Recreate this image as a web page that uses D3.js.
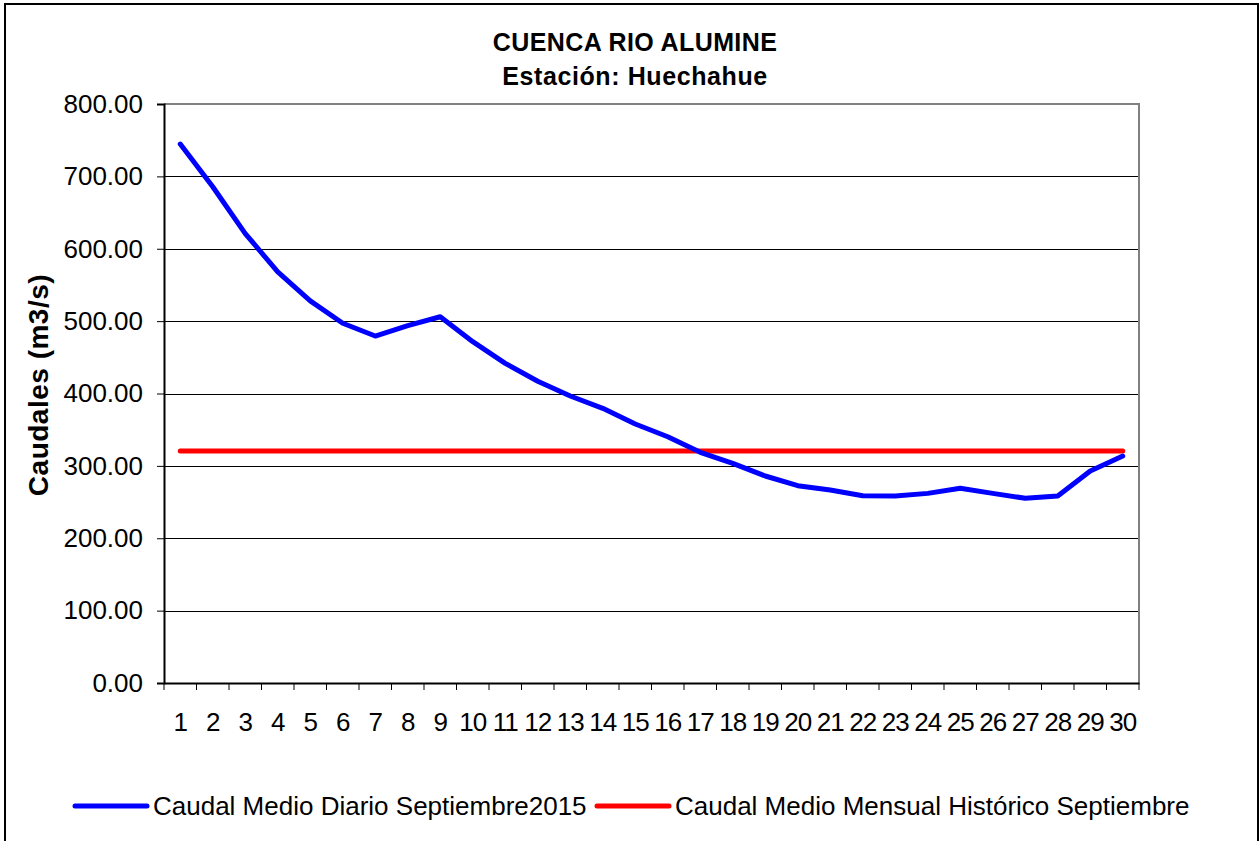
<!DOCTYPE html>
<html><head><meta charset="utf-8">
<script src="https://cdn.jsdelivr.net/npm/d3@7"></script>
<style>body{margin:0;background:#fff}svg{display:block;font-family:"Liberation Sans",Arial,sans-serif}</style>
</head><body><svg id="c" width="1260" height="841"></svg>
<script>
const days = d3.range(1, 31).map(String);
const dailyFlow = [744.7, 685.7, 621, 568, 528, 497, 479.4, 493.7, 506, 471.6, 441.7, 417, 396.5, 379.5, 357.9, 340.3, 318.8, 303.5, 286, 272.6, 266.7, 258.8, 258.4, 262, 269, 262, 255.2, 258.4, 293, 313.6];
const historicMean = days.map(() => 320.5);
const yTicks = [0, 100, 200, 300, 400, 500, 600, 700, 800];
const seriesNames = ["Caudal Medio Diario Septiembre2015", "Caudal Medio Mensual Histórico Septiembre"];
const seriesColors = ["#0000ff", "#ff0000"];

const svg = d3.select("#c");
const L = 164, R = 1139, T = 104, B = 683;
const x = d3.scaleBand().domain(days).range([L, R]);
const y = d3.scaleLinear().domain([0, 800]).range([B, T]);

// outer frame
svg.append("rect").attr("x", 5).attr("y", 4).attr("width", 1253).attr("height", 900)
  .attr("fill", "none").attr("stroke", "#000").attr("stroke-width", 2);

// gridlines
svg.append("g").selectAll("line").data(yTicks.filter(d => d > 0 && d < 800)).join("line")
  .attr("x1", L).attr("x2", R).attr("y1", d => Math.round(y(d)) + 0.5).attr("y2", d => Math.round(y(d)) + 0.5)
  .attr("stroke", "#000").attr("stroke-width", 1);
// plot border top/right
svg.append("path").attr("d", `M${L},${T}H${R}V${B}`).attr("fill", "none").attr("stroke", "#808080").attr("stroke-width", 2);

// y axis
const yAxis = d3.axisLeft(y).tickValues(yTicks).tickFormat(d3.format(".2f")).tickSize(7).tickPadding(14);
const gy = svg.append("g").attr("transform", `translate(${L},0)`).call(yAxis);
gy.select(".domain").attr("stroke", "#000").attr("stroke-width", 2);
gy.selectAll(".tick line").attr("stroke", "#000");
gy.selectAll("text").attr("font-size", 26).attr("font-family", "Liberation Sans, Arial, sans-serif").attr("fill", "#000");

// x axis
const xAxis = d3.axisBottom(x).tickSize(0).tickPadding(30);
const gx = svg.append("g").attr("transform", `translate(0,${B})`).call(xAxis);
gx.select(".domain").attr("stroke", "#000").attr("stroke-width", 2);
gx.selectAll("text").attr("font-size", 26).attr("font-family", "Liberation Sans, Arial, sans-serif").attr("fill", "#000")
  .attr("letter-spacing", -1);
// band boundary ticks
const bounds = days.map(d => x(d)).concat([R]);
gx.append("g").selectAll("line").data(bounds).join("line")
  .attr("x1", d => d).attr("x2", d => d).attr("y1", 0).attr("y2", 7).attr("stroke", "#000");

// lines
const cx = d => x(d) + x.bandwidth() / 2;
const line = d3.line().x((d, i) => cx(days[i])).y(d => y(d));
svg.append("path").datum(historicMean).attr("d", line).attr("fill", "none")
  .attr("stroke", seriesColors[1]).attr("stroke-width", 5).attr("stroke-linecap", "round");
svg.append("path").datum(dailyFlow).attr("d", line).attr("fill", "none")
  .attr("stroke", seriesColors[0]).attr("stroke-width", 5).attr("stroke-linejoin", "round").attr("stroke-linecap", "round");

// title
svg.append("text").attr("x", 635).attr("y", 51).attr("text-anchor", "middle").attr("font-size", 25).attr("font-weight", "bold").attr("letter-spacing", 0.4).text("CUENCA RIO ALUMINE");
svg.append("text").attr("x", 635).attr("y", 85).attr("text-anchor", "middle").attr("font-size", 25).attr("font-weight", "bold").attr("letter-spacing", 0.6).text("Estación: Huechahue");

// y title
svg.append("text").attr("transform", "translate(48,385) rotate(-90)").attr("text-anchor", "middle")
  .attr("font-size", 28).attr("font-weight", "bold").attr("letter-spacing", 0.5).text("Caudales (m3/s)");

// legend
const legX = [75, 597];
const lg = svg.append("g").selectAll("g").data(seriesNames).join("g");
lg.append("line").attr("x1", (d, i) => legX[i]).attr("x2", (d, i) => legX[i] + 72).attr("y1", 806).attr("y2", 806)
  .attr("stroke", (d, i) => seriesColors[i]).attr("stroke-width", 5).attr("stroke-linecap", "round");
lg.append("text").attr("x", (d, i) => legX[i] + 78).attr("y", 815).attr("font-size", 26).text(d => d);
</script></body></html>
